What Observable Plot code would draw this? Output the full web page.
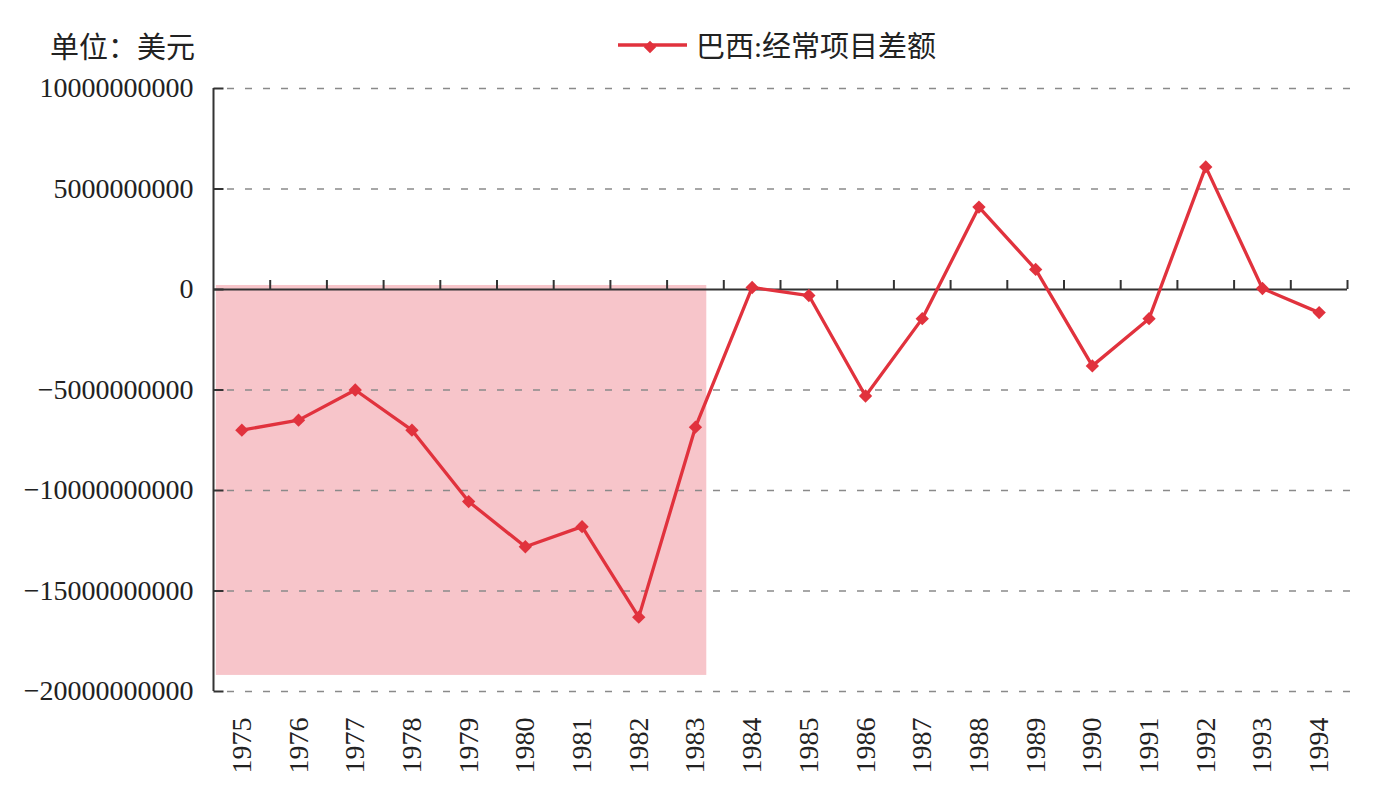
<!DOCTYPE html>
<html>
<head>
<meta charset="utf-8">
<script src="https://cdn.jsdelivr.net/npm/d3@7"></script>
<script src="https://cdn.jsdelivr.net/npm/@observablehq/plot@0.6"></script>
<style>
  body { margin: 0; background: #fff; }
  #chart { position: relative; width: 1397px; height: 804px; }
  #head { position: relative; height: 70px; color: #222; }
  #unit { position: absolute; left: 50px; top: 27px; font: 29px "Noto Sans CJK SC", "Liberation Serif", serif; line-height: 36px; }
  #legend { position: absolute; left: 618px; top: 29px; display: flex; align-items: center; font: 29px "Liberation Serif", "Noto Sans CJK SC", serif; line-height: 36px; }
  #legend svg { display: block; margin-right: 8px; }
  #plot svg { display: block; }
</style>
</head>
<body>
<div id="chart">
  <div id="head">
    <div id="unit"></div>
    <div id="legend"></div>
  </div>
  <div id="plot"></div>
</div>
<script>
// Brazil current account balance, USD
const years = [1975, 1976, 1977, 1978, 1979, 1980, 1981, 1982, 1983, 1984,
               1985, 1986, 1987, 1988, 1989, 1990, 1991, 1992, 1993, 1994];
const balance = [-7.0e9, -6.5e9, -5.0e9, -7.0e9, -10.55e9, -12.8e9, -11.8e9, -16.3e9, -6.85e9, 0.1e9,
                 -0.3e9, -5.3e9, -1.45e9, 4.1e9, 1.0e9, -3.8e9, -1.45e9, 6.1e9, 0.05e9, -1.15e9];
const yTicks = [10e9, 5e9, 0, -5e9, -10e9, -15e9, -20e9];
const seriesName = "巴西:经常项目差额";
const unitLabel = "单位：美元";
// highlighted deficit period
const shaded = [{start: 1974.55, end: 1983.2, top: 0.2e9, bottom: -19.2e9}];

const red = "#e1323d";
const data = years.map((year, i) => ({year, value: balance[i]}));
const bandEdges = years.map(y => y + 0.5);

document.getElementById("unit").textContent = unitLabel;

// legend swatch: line with diamond marker
const legend = document.getElementById("legend");
const sw = d3.create("svg").attr("width", 70).attr("height", 22);
sw.append("line").attr("x1", 0).attr("x2", 69).attr("y1", 9).attr("y2", 9)
  .attr("stroke", red).attr("stroke-width", 3.5);
sw.append("path").attr("d", d3.symbol(d3.symbolDiamond2, 100)())
  .attr("transform", "translate(32,11)").attr("fill", red);
legend.append(sw.node());
const lt = document.createElement("span");
lt.textContent = seriesName;
legend.append(lt);

// short inward tick pointing right from the y axis line
const inwardTick = {draw(ctx) { ctx.moveTo(0, 0); ctx.lineTo(10, 0); }};

const chart = Plot.plot({
  width: 1397,
  height: 734,
  marginLeft: 213,
  marginRight: 50,
  marginTop: 18,
  marginBottom: 113,
  style: {fontFamily: '"Liberation Serif", serif', fontSize: "28px", color: "#222", background: "transparent"},
  x: {type: "linear", domain: [1974.5, 1994.5]},
  y: {domain: [-20e9, 10e9]},
  marks: [
    Plot.rect(shaded, {x1: "start", x2: "end", y1: "top", y2: "bottom", fill: "#f7c5ca"}),
    Plot.ruleY(yTicks.filter(d => d !== 0), {stroke: "#8a8a8a", strokeWidth: 1.3, strokeDasharray: "7,11", dx: 14}),
    Plot.ruleX([1974.5], {stroke: "#333", strokeWidth: 2}),
    Plot.ruleY([0], {stroke: "#333", strokeWidth: 2}),
    Plot.ruleX(bandEdges, {y1: 0, y2: 0, insetTop: -9, stroke: "#333", strokeWidth: 2}),
    Plot.dot(yTicks, {x: () => 1974.5, y: d => d, symbol: inwardTick, stroke: "#333", strokeWidth: 2, fill: "none"}),
    Plot.line(data, {x: "year", y: "value", stroke: red, strokeWidth: 3.3}),
    Plot.dot(data, {x: "year", y: "value", symbol: "diamond2", r: 6, fill: red}),
    Plot.axisY(yTicks, {tickSize: 0, tickPadding: 20, tickFormat: d3.format("d"), label: null, fontSize: 28}),
    Plot.axisX(years, {anchor: "bottom", tickSize: 0, tickPadding: 26, tickRotate: -90, tickFormat: d => String(d), label: null, fontSize: 28})
  ]
});
document.getElementById("plot").append(chart);
</script>
</body>
</html>
